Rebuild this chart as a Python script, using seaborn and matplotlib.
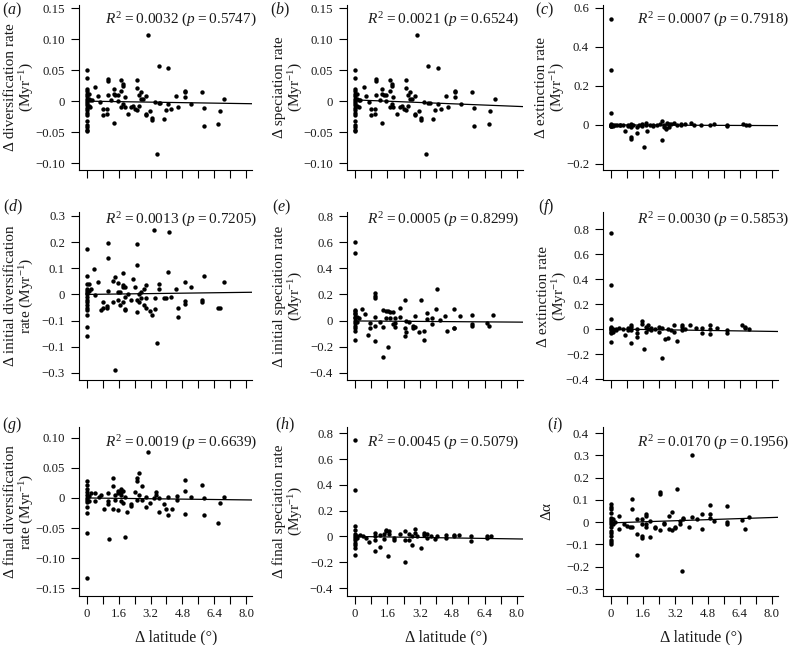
import matplotlib
matplotlib.use("Agg")
import matplotlib.pyplot as plt
import numpy as np
import pandas as pd
import seaborn as sns

# ---- data ----
X_A = [0, 0, 0, 0, 0, 0, 0, 0, 0, 0, 0, 0, 0, 0, 0, 0, 0, 0, 0,
       0.08, 0.08, 0.08, 0.17, 0.17, 0.25, 0.42, 0.54, 0.67, 0.80, 0.80,
       1.00, 1.00, 1.05, 1.05, 1.05, 1.22, 1.34, 1.34, 1.34, 1.42, 1.54, 1.54,
       1.71, 1.71, 1.71, 1.81, 1.81, 1.81, 1.89, 1.89, 2.06, 2.23, 2.34, 2.43,
       2.51, 2.51, 2.51, 2.64, 2.64, 2.71, 2.71, 2.81, 2.95, 2.95, 2.95, 3.05,
       3.15, 3.26, 3.26, 3.43, 3.51, 3.60, 3.60, 3.68, 3.85, 3.97, 4.10, 4.10,
       4.23, 4.47, 4.60, 4.95, 4.95, 4.95, 5.22, 5.79, 5.87, 5.87, 6.61, 6.69, 6.90]
Y_A = [0.050, 0.037, 0.020, 0.016, 0.012, 0.008, 0.004, 0.001, -0.003, -0.007,
       -0.011, -0.015, -0.019, -0.023, -0.032, -0.038, -0.042, -0.046, -0.048,
       0.003, -0.008, 0.012, 0.002, -0.009, 0.002, 0.023, 0.008, -0.002, -0.013, -0.023,
       -0.013, -0.021, 0.036, 0.033, 0.010, 0.002, -0.036, 0.020, 0.012, 0.010, 0.010, 0.000,
       0.034, 0.017, -0.010, 0.028, 0.025, -0.005, -0.010, 0.006, -0.021, -0.010, -0.008, -0.012,
       0.034, 0.022, -0.015, 0.010, -0.008, 0.003, 0.014, 0.004, -0.020, -0.022, 0.009, 0.106,
       -0.016, -0.027, -0.030, -0.002, -0.085, 0.057, -0.003, -0.003, -0.028, -0.015, 0.054, -0.005,
       -0.012, 0.009, -0.009, 0.017, 0.014, 0.007, -0.005, 0.015, -0.011, -0.040, -0.037, -0.016, 0.003]

# speciation rate: same pattern as diversification rate
X_B = list(X_A)
Y_B = list(Y_A)

X_C = [0, 0, 0, 0, 0, 0, 0, 0, 0, 0.08, 0.08, 0.2, 0.3, 0.45, 0.45, 0.6, 0.71,
       0.83, 0.83, 1.0, 1.0, 1.0, 1.0, 1.1, 1.29, 1.29, 1.4, 1.55, 1.55, 1.62,
       1.72, 1.72, 1.79, 1.95, 2.1, 2.1, 2.3, 2.45, 2.53, 2.53, 2.65, 2.65,
       2.75, 2.75, 2.8, 2.9, 2.9, 3.0, 3.15, 3.3, 3.5, 3.5, 3.7, 3.95, 4.1,
       4.45, 4.9, 5.13, 5.76, 5.76, 6.55, 6.7, 6.85]
Y_C = [0.545, 0.28, 0.06, 0.005, 0.0, -0.003, -0.006, 0.002, -0.004, 0.0, -0.004,
       0.0, 0.0, 0.0, -0.002, 0.0, -0.03, 0.0, -0.005, -0.06, -0.07, 0.005, -0.01,
       0.0, -0.04, -0.01, 0.0, 0.005, -0.005, -0.115, 0.008, 0.0, -0.03, 0.0,
       0.002, -0.003, 0.0, 0.005, -0.075, 0.022, 0.0, -0.01, -0.02, -0.015,
       0.012, -0.008, 0.003, 0.005, 0.012, 0.0, 0.005, 0.0, 0.003, 0.01, 0.0,
       0.0, 0.0, 0.006, 0.0, -0.003, 0.003, 0.0, -0.002]

X_D = [0, 0, 0, 0, 0, 0, 0, 0, 0, 0, 0, 0, 0, 0, 0, 0,
       0.1, 0.1, 0.2, 0.37, 0.42, 0.54, 0.7, 0.8, 0.8, 1.0, 1.0, 1.05, 1.05, 1.05,
       1.3, 1.3, 1.42, 1.42, 1.54, 1.54, 1.54, 1.67, 1.67, 1.81, 1.81, 1.81, 1.81,
       1.9, 1.9, 1.9, 1.9, 2.06, 2.23, 2.31, 2.43, 2.51, 2.51, 2.51, 2.51,
       2.64, 2.64, 2.71, 2.71, 2.85, 2.85, 2.95, 2.95, 2.95, 3.15, 3.26, 3.35,
       3.43, 3.43, 3.51, 3.6, 3.6, 3.85, 3.97, 4.1, 4.15, 4.23, 4.47, 4.6, 4.6,
       4.95, 4.95, 4.95, 5.22, 5.79, 5.79, 5.87, 6.61, 6.69, 6.9]
Y_D = [0.172, 0.07, 0.04, 0.02, 0.012, 0.005, 0.0, -0.01, -0.02, -0.03, -0.04,
       -0.05, -0.06, -0.08, -0.125, -0.158,
       0.04, 0.015, 0.02, 0.097, -0.003, 0.048, -0.06, -0.03, -0.05, -0.045, -0.05,
       0.195, 0.138, 0.012,
       0.05, -0.03, 0.065, -0.29, 0.045, 0.01, -0.02, 0.01, -0.04, 0.035, 0.03, -0.03, 0.08,
       0.03, -0.01, -0.055, -0.06, 0.0, -0.02, 0.06, 0.03, 0.193, 0.113, -0.02, -0.068,
       0.0, -0.03, 0.01, -0.015, -0.04, 0.02, -0.05, 0.035, -0.015, -0.065, -0.08, 0.245,
       -0.015, -0.055, -0.184, 0.04, 0.02, -0.015, -0.015, 0.085, 0.24, -0.01, 0.022, -0.05, -0.088,
       0.048, -0.025, -0.035, 0.03, -0.02, -0.03, 0.07, -0.05, -0.052, 0.048]

X_E = [0, 0, 0, 0, 0, 0, 0, 0, 0, 0, 0, 0, 0, 0,
       0.1, 0.1, 0.2, 0.33, 0.5, 0.66, 0.75, 0.75, 1.0, 1.0, 1.0, 1.0, 1.0, 1.0,
       1.24, 1.37, 1.37, 1.37, 1.54, 1.54, 1.62, 1.62, 1.74, 1.74, 1.87, 1.87,
       1.99, 1.99, 1.99, 2.24, 2.24, 2.45, 2.45, 2.45, 2.53, 2.53, 2.68, 2.86, 2.86,
       2.98, 2.98, 3.18, 3.28, 3.39, 3.39, 3.53, 3.53, 3.81, 3.81, 4.0, 4.06, 4.22,
       4.44, 4.52, 4.88, 4.88, 4.88, 5.17, 5.76, 5.76, 5.76, 6.54, 6.64, 6.82]
Y_E = [0.605, 0.52, 0.08, 0.07, 0.06, 0.05, 0.03, 0.02, 0.0, -0.02, -0.04, -0.06, -0.08, -0.15,
       0.03, -0.01, 0.02, 0.09, 0.05, -0.11, -0.06, -0.02, 0.21, 0.19, 0.17, 0.03, -0.04, -0.16,
       -0.01, -0.28, 0.08, -0.05, 0.07, 0.02, -0.2, 0.07, 0.065, 0.02, 0.065, -0.03,
       0.02, -0.05, -0.02, 0.095, 0.03, 0.155, -0.06, -0.12, 0.0, -0.09, -0.01, -0.04, -0.06,
       0.035, -0.05, -0.09, 0.155, -0.08, -0.15, 0.055, 0.01, -0.03, 0.02, 0.085, 0.24, 0.005,
       0.035, -0.08, 0.085, -0.06, -0.055, 0.035, 0.04, -0.04, -0.03, -0.02, -0.04, 0.04]

X_F = [0, 0, 0, 0, 0, 0, 0, 0, 0, 0,
       0.1, 0.1, 0.25, 0.25, 0.4, 0.6, 0.71, 0.85, 0.85, 1.0, 1.0, 1.0, 1.0,
       1.29, 1.29, 1.29, 1.54, 1.54, 1.62, 1.72, 1.72, 1.85, 1.85, 2.0, 2.0, 2.2,
       2.4, 2.4, 2.53, 2.53, 2.66, 2.81, 2.81, 3.0, 3.11, 3.11, 3.28, 3.52, 3.52, 3.52,
       3.7, 3.93, 4.2, 4.52, 4.52, 4.9, 4.9, 4.9, 5.25, 5.76, 5.76, 6.5, 6.68, 6.68, 6.84]
Y_F = [0.77, 0.35, 0.08, 0.02, 0.01, 0.0, -0.01, -0.02, -0.03, -0.1,
       0.0, -0.02, 0.0, -0.01, 0.005, 0.0, -0.05, 0.01, -0.01, -0.115, 0.03, 0.02, -0.01,
       -0.06, -0.03, 0.0, 0.065, 0.04, -0.16, 0.02, -0.02, 0.0, 0.03, 0.01, -0.01, 0.0,
       -0.02, 0.015, -0.235, 0.01, -0.08, -0.075, 0.0, -0.01, 0.03, -0.02, -0.095, 0.03, 0.02, -0.01,
       0.0, 0.03, 0.005, 0.01, -0.03, 0.035, -0.04, 0.0, 0.005, -0.01, -0.03, 0.03, 0.02, 0.01, 0.0]

X_G = [0, 0, 0, 0, 0, 0, 0, 0, 0, 0, 0, 0,
       0.1, 0.1, 0.2, 0.42, 0.42, 0.59, 0.72, 0.84, 1.04, 1.04, 1.04, 1.09,
       1.3, 1.3, 1.3, 1.42, 1.42, 1.54, 1.54, 1.54, 1.71, 1.71, 1.71, 1.71,
       1.81, 1.81, 1.89, 1.89, 2.01, 2.23, 2.23, 2.43, 2.51, 2.51, 2.51,
       2.64, 2.64, 2.76, 2.76, 2.95, 2.95, 3.05, 3.18, 3.35, 3.45, 3.45, 3.6, 3.6,
       3.85, 3.97, 4.1, 4.1, 4.27, 4.52, 4.52, 4.95, 4.95, 4.95, 5.22, 5.79,
       5.87, 5.87, 6.61, 6.69, 6.9]
Y_G = [0.028, 0.022, 0.015, 0.01, 0.005, 0.0, -0.003, -0.007, -0.015, -0.025, -0.058, -0.133,
       0.003, -0.005, 0.008, 0.008, -0.005, 0.002, 0.005, -0.018, 0.008, -0.01, -0.005, -0.069,
       0.033, 0.02, -0.018, 0.005, -0.003, 0.012, 0.008, -0.02, 0.015, 0.01, 0.005, -0.005,
       0.012, -0.008, -0.065, 0.002, -0.023, -0.01, -0.013, 0.01, 0.034, 0.028, -0.003,
       0.041, 0.005, 0.02, -0.004, 0.002, -0.015, 0.077, -0.008, 0.0, 0.01, 0.005, -0.024, 0.0,
       -0.01, -0.019, 0.002, -0.028, -0.018, 0.003, -0.003, 0.03, 0.012, -0.027, 0.002, 0.021,
       0.0, -0.028, -0.042, -0.008, 0.001]

X_H = [0, 0, 0, 0, 0, 0, 0, 0, 0, 0, 0, 0,
       0.1, 0.1, 0.25, 0.4, 0.55, 0.67, 1.0, 1.0, 1.0, 1.0, 1.24, 1.24,
       1.41, 1.41, 1.54, 1.54, 1.62, 1.7, 1.7, 1.9, 1.9, 2.24, 2.48, 2.48, 2.48,
       2.65, 2.65, 2.81, 2.81, 2.95, 2.95, 3.06, 3.28, 3.39, 3.39, 3.56, 3.56,
       3.73, 3.97, 4.06, 4.47, 4.47, 4.88, 4.88, 5.13, 5.71, 5.71, 6.54, 6.54, 6.7]
Y_H = [0.75, 0.36, 0.08, 0.05, 0.02, 0.0, -0.01, -0.03, -0.05, -0.07, -0.09, -0.145,
       0.0, -0.01, 0.01, 0.0, -0.01, -0.04, -0.115, 0.03, 0.0, -0.03, -0.08, 0.01,
       0.02, -0.02, 0.05, 0.04, -0.15, 0.04, 0.02, -0.03, -0.01, 0.02, -0.2, 0.04, -0.03,
       0.02, -0.03, -0.07, 0.0, 0.055, 0.03, 0.0, -0.09, 0.03, 0.01, 0.02, -0.01,
       0.0, -0.02, 0.0, 0.01, -0.01, 0.01, 0.0, 0.01, 0.0, -0.035, -0.01, 0.0, 0.005]

X_I = [0, 0, 0, 0, 0, 0, 0, 0, 0, 0, 0, 0, 0, 0, 0,
       0.1, 0.1, 0.2, 0.38, 0.38, 0.63, 0.8, 0.93, 1.04, 1.04, 1.04,
       1.29, 1.29, 1.29, 1.54, 1.54, 1.54, 1.54, 1.75, 1.75, 1.75, 1.75,
       1.95, 1.95, 2.2, 2.2, 2.45, 2.45, 2.45, 2.62, 2.62, 2.86, 2.86, 3.03, 3.03,
       3.2, 3.2, 3.28, 3.44, 3.44, 3.51, 3.6, 3.6, 3.86, 4.02, 4.02, 4.27,
       4.52, 4.52, 4.9, 4.9, 4.9, 5.13, 5.76, 5.76, 5.76, 6.5, 6.67, 6.84]
Y_I = [0.08, 0.07, 0.06, 0.04, 0.02, 0.01, 0.0, -0.01, -0.02, -0.04, -0.05, -0.06, -0.08, -0.09, -0.1,
       0.015, -0.01, 0.0, 0.03, -0.03, -0.01, -0.015, -0.02, 0.105, 0.06, -0.02,
       0.015, -0.055, -0.145, 0.015, -0.01, -0.06, -0.07, 0.035, 0.03, -0.01, -0.02,
       -0.065, 0.005, -0.025, -0.02, 0.135, 0.125, -0.035, -0.005, -0.01, 0.03, -0.03, 0.048, -0.035,
       -0.02, -0.025, 0.147, 0.005, -0.01, -0.22, 0.015, 0.02, -0.02, 0.302, 0.025, 0.015,
       0.035, -0.03, 0.075, 0.035, 0.02, 0.005, 0.073, 0.0, -0.01, 0.01, -0.03, 0.025]

# fitted regression lines (intercept, slope) and reported statistics
FIT_INTERCEPT = [0.0, 0.002, 0.0, 0.0, -0.003, 0.0, 0.0, 0.0, -0.003]
FIT_SLOPE = [-0.0005, -0.0013, -0.0004, 0.001, -0.0011, -0.0024, -0.0004, -0.0024, 0.003]
R2 = ["0.0032", "0.0021", "0.0007", "0.0013", "0.0005", "0.0030", "0.0019", "0.0045", "0.0170"]
PVAL = ["0.5747", "0.6524", "0.7918", "0.7205", "0.8299", "0.5853", "0.6639", "0.5079", "0.1956"]

PANEL_LETTERS = ["a", "b", "c", "d", "e", "f", "g", "h", "i"]
YLABELS = [
    "Δ diversification rate\n(Myr$^{-1}$)",
    "Δ speciation rate\n(Myr$^{-1}$)",
    "Δ extinction rate\n(Myr$^{-1}$)",
    "Δ initial diversification\nrate (Myr$^{-1}$)",
    "Δ initial speciation rate\n(Myr$^{-1}$)",
    "Δ extinction rate\n(Myr$^{-1}$)",
    "Δ final diversification\nrate (Myr$^{-1}$)",
    "Δ final speciation rate\n(Myr$^{-1}$)",
    "Δα",
]
XLABEL = "Δ latitude (°)"

YT_SMALL = [-0.10, -0.05, 0, 0.05, 0.10, 0.15]
YT_SMALL_LAB = ["−0.10", "−0.05", "0", "0.05", "0.10", "0.15"]
YT_EXT = [-0.2, 0, 0.2, 0.4, 0.6]
YT_EXT_LAB = ["−0.2", "0", "0.2", "0.4", "0.6"]
YT_D = [-0.3, -0.2, -0.1, 0, 0.1, 0.2, 0.3]
YT_D_LAB = ["−0.3", "−0.1", "−0.1", "0", "0.1", "0.2", "0.3"]  # as printed
YT_WIDE = [-0.4, -0.2, 0, 0.2, 0.4, 0.6, 0.8]
YT_WIDE_LAB = ["−0.4", "−0.2", "0", "0.2", "0.4", "0.6", "0.8"]
YT_G = [-0.15, -0.10, -0.05, 0, 0.05, 0.10]
YT_G_LAB = ["−0.15", "−0.10", "−0.05", "0", "0.05", "0.10"]
YT_I = [-0.3, -0.2, -0.1, 0, 0.1, 0.2, 0.3, 0.4]
YT_I_LAB = ["−0.3", "−0.2", "−0.1", "0", "0.1", "0.2", "0.3", "0.4"]

XT = [0, 0.8, 1.6, 2.4, 3.2, 4.0, 4.8, 5.6, 6.4, 7.2, 8.0]
XT_LAB = ["0", "", "1.6", "", "3.2", "", "4.8", "", "6.4", "", "8.0"]

PANELS = [
    (X_A, Y_A, YT_SMALL, YT_SMALL_LAB, (-0.111, 0.155)),
    (X_B, Y_B, YT_SMALL, YT_SMALL_LAB, (-0.111, 0.155)),
    (X_C, Y_C, YT_EXT, YT_EXT_LAB, (-0.231, 0.615)),
    (X_D, Y_D, YT_D, YT_D_LAB, (-0.327, 0.315)),
    (X_E, Y_E, YT_WIDE, YT_WIDE_LAB, (-0.455, 0.831)),
    (X_F, Y_F, YT_WIDE, YT_WIDE_LAB, (-0.408, 0.936)),
    (X_G, Y_G, YT_G, YT_G_LAB, (-0.163, 0.118)),
    (X_H, Y_H, YT_WIDE, YT_WIDE_LAB, (-0.462, 0.849)),
    (X_I, Y_I, YT_I, YT_I_LAB, (-0.331, 0.427)),
]

# ---- layout in pixels (figure is 792 x 645) ----
W, H = 792, 645
COL_LEFT = [79, 347, 603]
COL_WIDTH = [173, 176, 175]
ROW_TOP = [5, 212, 427]
ROW_BOTTOM = [170, 380, 596]
YLAB_CX = [20, 289, 551, 20, 289, 553, 20, 289, 547]
R2_RIGHT = [257, 519, 789]
R2_Y = [20, 220, 443]
LETTER_X = [[2, 270, 535], [3, 272, 538], [2, 275, 547]]
LETTER_Y = [10, 207, 425]
XLIM = (-0.4, 8.3)

sns.set_theme(style="ticks")
plt.rcParams["font.family"] = ["Liberation Serif", "DejaVu Serif"]
plt.rcParams["mathtext.fontset"] = "custom"
plt.rcParams["mathtext.rm"] = "Liberation Serif"
plt.rcParams["mathtext.it"] = "Liberation Serif:italic"
plt.rcParams["axes.unicode_minus"] = True

TXT = "#1a1a1a"
fig = plt.figure(figsize=(W / 100, H / 100), dpi=100)

for i, (xs, ys, yt, ytl, ylim) in enumerate(PANELS):
    r, c = divmod(i, 3)
    left, width = COL_LEFT[c], COL_WIDTH[c]
    top, bottom = ROW_TOP[r], ROW_BOTTOM[r]
    ax = fig.add_axes([left / W, 1 - bottom / H, width / W, (bottom - top) / H])
    df = pd.DataFrame({"lat": xs, "val": ys})
    sns.scatterplot(data=df, x="lat", y="val", ax=ax, color="black", s=10,
                    linewidth=0, legend=False)
    ax.set_xlim(*XLIM)
    ax.set_ylim(*ylim)
    xx = np.array([0, XLIM[1]])
    ax.plot(xx, FIT_INTERCEPT[i] + FIT_SLOPE[i] * xx, color="black", lw=0.9)

    ax.set_yticks(yt)
    ax.set_yticklabels(ytl)
    ax.set_xticks(XT)
    if r == 2:
        ax.set_xticklabels(XT_LAB)
        ax.set_xlabel(XLABEL, fontsize=11.5, color=TXT)
        ax.xaxis.set_label_coords((4.5 - XLIM[0]) / (XLIM[1] - XLIM[0]),
                                  -(629 - bottom) / (bottom - top))
    else:
        ax.set_xticklabels([])
        ax.set_xlabel("")
    ax.tick_params(axis="both", direction="out", length=5.5, width=0.8,
                   colors="black", labelcolor=TXT, labelsize=9.2, pad=3)
    ax.tick_params(axis="y", pad=4.5)
    ax.set_ylabel(YLABELS[i], fontsize=11, color=TXT, linespacing=1.05)
    ax.yaxis.label.set_va("center")
    ax.yaxis.set_label_coords((YLAB_CX[i] - left) / width, 0.5)
    sns.despine(ax=ax)
    for sp in ("left", "bottom"):
        ax.spines[sp].set_linewidth(0.8)
        ax.spines[sp].set_color("black")

    fig.text(R2_RIGHT[c] / W, 1 - R2_Y[r] / H,
             f"$R^2$\u2009=\u2009{R2[i]} ($p$\u2009=\u2009{PVAL[i]})",
             ha="right", va="center", fontsize=11, color=TXT)
    fig.text(LETTER_X[r][c] / W, 1 - LETTER_Y[r] / H, f"(${PANEL_LETTERS[i]}$)",
             ha="left", va="center", fontsize=11.5, color=TXT)

fig.savefig("out.png", dpi=100)
